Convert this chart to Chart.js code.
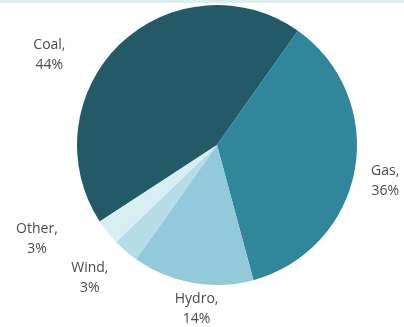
<!DOCTYPE html>
<html>
<head>
<meta charset="utf-8">
<script src="https://cdn.jsdelivr.net/npm/chart.js@4/dist/chart.umd.min.js"></script>
<style>
    html, body { margin: 0; padding: 0; background: #ffffff; }
    #wrap { position: relative; width: 404px; height: 327px; }
    #band { position: absolute; left: 0; top: 0; width: 404px; height: 3px; background: #dcedf1; }
    #pie-chart { position: absolute; left: 0; top: 0; }
</style>
</head>
<body>
<div id="wrap">
    <div id="band"></div>
    <canvas id="pie-chart" width="404" height="327"></canvas>
</div>
<script>
    // ------------------------------------------------------
    // @Data
    // ------------------------------------------------------

    const categories = ['Coal', 'Gas', 'Hydro', 'Wind', 'Other'];
    const shares     = [44, 36, 14, 3, 3];

    const sliceColors = ['#225a68', '#30879b', '#93cadb', '#b6dde7', '#d7eef3'];

    // label placement relative to each slice: [angle shift (deg), distance from centre (px)]
    const labelPlacement = [
        [-18, 190],
        [2, 172],
        [-3, 165],
        [3, 184],
        [11, 203],
    ];

    // ------------------------------------------------------
    // @Outside labels
    // ------------------------------------------------------

    const outsideLabels = {
        id: 'outsideLabels',
        afterDatasetsDraw(chart) {
            const ctx = chart.ctx;
            const meta = chart.getDatasetMeta(0);
            ctx.save();
            ctx.fillStyle = '#4a4a4a';
            ctx.font = '14px "Open Sans", sans-serif';
            ctx.textAlign = 'center';
            ctx.textBaseline = 'middle';
            meta.data.forEach((arc, i) => {
                const p = arc.getProps(['x', 'y', 'startAngle', 'endAngle'], true);
                const mid = (p.startAngle + p.endAngle) / 2 + labelPlacement[i][0] * Math.PI / 180;
                const dist = labelPlacement[i][1];
                const x = p.x + Math.cos(mid) * dist;
                const y = p.y + Math.sin(mid) * dist;
                ctx.fillText(categories[i] + ',', x, y - 10);
                ctx.fillText(shares[i] + '%', x, y + 10);
            });
            ctx.restore();
        },
    };

    // ------------------------------------------------------
    // @Pie Chart
    // ------------------------------------------------------

    const pieChartBox = document.getElementById('pie-chart');

    if (pieChartBox) {
        new Chart(pieChartBox.getContext('2d'), {
            type: 'pie',
            data: {
                labels: categories,
                datasets: [{
                    data            : shares,
                    backgroundColor : sliceColors,
                    borderWidth     : 0,
                }],
            },
            options: {
                responsive: false,
                animation: false,
                rotation: -123.1,
                layout: {
                    padding: { left: 77, right: 47, top: 5, bottom: 42 },
                },
                plugins: {
                    legend: { display: false },
                    tooltip: { enabled: false },
                },
            },
            plugins: [outsideLabels],
        });
    }
</script>
</body>
</html>
